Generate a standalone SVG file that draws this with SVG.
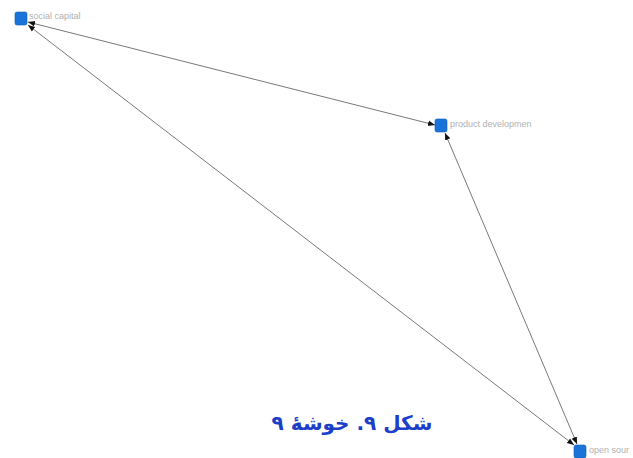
<svg xmlns="http://www.w3.org/2000/svg" width="633" height="458" viewBox="0 0 633 458">
<style>
.node{fill:#1a73d9;stroke:#0d5cb8;stroke-width:0.6}
.lbl{font-family:"Liberation Sans",Arial,sans-serif;font-size:9px;fill:#b0b0b0}
.edge{stroke:#555;stroke-width:0.8;fill:none;marker-end:url(#ah);marker-start:url(#as)}
.cap{font-family:"DejaVu Sans","Noto Sans",sans-serif;font-size:20px;font-weight:bold;fill:#1c3ec8}
</style>
<defs>
<marker id="ah" viewBox="0 0 10 10" refX="10" refY="5" markerWidth="7" markerHeight="7" orient="auto" markerUnits="userSpaceOnUse"><path d="M0,1 L10,5 L0,9 z" fill="#111"/></marker>
<marker id="as" viewBox="0 0 10 10" refX="0" refY="5" markerWidth="7" markerHeight="7" orient="auto" markerUnits="userSpaceOnUse"><path d="M10,1 L0,5 L10,9 z" fill="#111"/></marker>
</defs>
<rect width="633" height="458" fill="#fff"/>
<g id="connectors">
<line class="edge" x1="28" y1="22" x2="435" y2="125"/>
<line class="edge" x1="445" y1="133" x2="577" y2="444"/>
<line class="edge" x1="28" y1="25" x2="574" y2="445"/>
</g>
<g id="n-social">
<rect class="node" x="15" y="12" width="12" height="13" rx="2"/>
<text class="lbl" x="29" y="19">social capital</text>
</g>
<g id="n-product">
<rect class="node" x="435" y="119" width="12" height="13" rx="2"/>
<text class="lbl" x="450" y="127">product developmen</text>
</g>
<g id="n-open">
<rect class="node" x="574" y="445" width="12" height="13" rx="2"/>
<text class="lbl" x="589" y="453">open sour</text>
</g>
<text class="cap" x="352" y="430" text-anchor="middle" direction="rtl">شکل ۹. خوشهٔ ۹</text>
</svg>
